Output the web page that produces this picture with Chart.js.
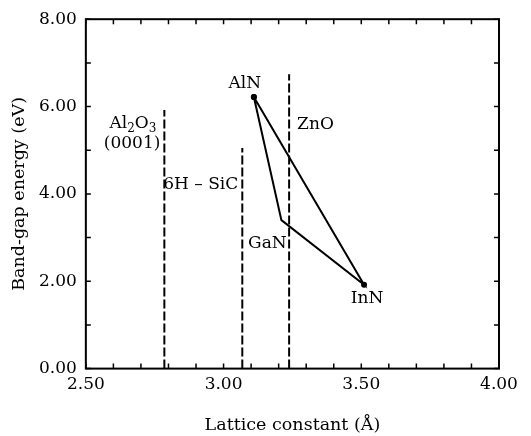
<!DOCTYPE html>
<html>
<head>
<meta charset="utf-8">
<script src="https://cdn.jsdelivr.net/npm/chart.js@4"></script>
<style>
  html, body { margin: 0; padding: 0; background: #fff; }
  #wrap { width: 531px; height: 436px; }
</style>
</head>
<body>
<div id="wrap"><canvas id="gapChart" width="531" height="436"></canvas></div>
<script>
// nitride alloys: lattice constant (A) vs band gap (eV)
const compounds = ['AlN', 'GaN', 'InN'];
const latticeA = [3.11, 3.21, 3.51];
const bandGap = [6.22, 3.40, 1.92];

// substrate lattice constants, drawn as dashed verticals
const substrates = ['Al2O3', '6H – SiC', 'ZnO'];
const substrateA = [2.785, 3.068, 3.238];
const substrateTop = [5.92, 5.05, 6.74];

const xTicks = [2.5, 3.0, 3.5, 4.0];
const yTicks = [0, 2, 4, 6, 8];

const FONT = "'DejaVu Serif', 'Liberation Serif', serif";

// triangle AlN -> GaN -> InN -> AlN
const triPoints = compounds.map((c, i) => ({ x: latticeA[i], y: bandGap[i] }));
triPoints.push({ x: latticeA[0], y: bandGap[0] });

const datasets = [{
    data: triPoints,
    showLine: true,
    borderColor: '#000',
    backgroundColor: '#000',
    borderWidth: 2,
    pointRadius: [3, 0, 3, 3],
    pointBorderWidth: 0
}];
substrates.forEach((s, i) => {
    datasets.push({
        data: [{ x: substrateA[i], y: 0 }, { x: substrateA[i], y: substrateTop[i] }],
        showLine: true,
        borderColor: '#000',
        borderWidth: 2,
        borderDash: [9, 3],
        pointRadius: 0
    });
});

function isLabelled(v, list) {
    return list.some(t => Math.abs(t - v) < 1e-6);
}

// frame + inward tick marks
const framePlugin = {
    id: 'frame',
    afterDatasetsDraw(chart) {
        const { ctx, chartArea: a, scales } = chart;
        ctx.save();
        ctx.strokeStyle = '#000';
        ctx.lineWidth = 2;
        ctx.strokeRect(a.left, a.top, a.right - a.left, a.bottom - a.top);
        ctx.lineWidth = 1.5;
        ctx.beginPath();
        scales.x.ticks.forEach(t => {
            const px = scales.x.getPixelForValue(t.value);
            ctx.moveTo(px, a.bottom); ctx.lineTo(px, a.bottom - 5);
            ctx.moveTo(px, a.top); ctx.lineTo(px, a.top + 5);
        });
        scales.y.ticks.forEach(t => {
            const py = scales.y.getPixelForValue(t.value);
            ctx.moveTo(a.left, py); ctx.lineTo(a.left + 5, py);
            ctx.moveTo(a.right, py); ctx.lineTo(a.right - 5, py);
        });
        ctx.stroke();
        ctx.restore();
    }
};

function subText(ctx, parts, x, y, align) {
    // parts: [text, isSub]
    const big = '17px ' + FONT, small = '12px ' + FONT;
    let w = 0;
    parts.forEach(p => { ctx.font = p[1] ? small : big; w += ctx.measureText(p[0]).width; });
    let cx = align === 'right' ? x - w : (align === 'center' ? x - w / 2 : x);
    ctx.textAlign = 'left';
    parts.forEach(p => {
        ctx.font = p[1] ? small : big;
        ctx.fillText(p[0], cx, p[1] ? y + 5 : y);
        cx += ctx.measureText(p[0]).width;
    });
}

const labelPlugin = {
    id: 'labels',
    afterDatasetsDraw(chart) {
        const { ctx, scales: { x, y } } = chart;
        ctx.save();
        ctx.fillStyle = '#000';
        ctx.textBaseline = 'middle';
        ctx.font = '17px ' + FONT;
        // compound labels
        const offs = [[-9, -13, 'center'], [-14, 23, 'center'], [3, 14, 'center']];
        compounds.forEach((c, i) => {
            ctx.textAlign = offs[i][2];
            ctx.fillText(c, x.getPixelForValue(latticeA[i]) + offs[i][0], y.getPixelForValue(bandGap[i]) + offs[i][1]);
        });
        // substrate labels
        const sx = substrateA.map(v => x.getPixelForValue(v));
        const sy = substrateTop.map(v => y.getPixelForValue(v));
        subText(ctx, [['Al', false], ['2', true], ['O', false], ['3', true]], sx[0] - 8, sy[0] + 14, 'right');
        ctx.font = '17px ' + FONT;
        ctx.textAlign = 'right';
        ctx.fillText('(0001)', sx[0] - 4, sy[0] + 34);
        ctx.fillText(substrates[1], sx[1] - 4, sy[1] + 37);
        ctx.textAlign = 'left';
        ctx.fillText(substrates[2], sx[2] + 8, sy[2] + 50);
        ctx.restore();
    }
};

new Chart(document.getElementById('gapChart'), {
    type: 'scatter',
    data: { datasets },
    options: {
        responsive: false,
        animation: false,
        layout: { padding: { left: 9, right: 32, top: 12, bottom: 0 } },
        plugins: { legend: { display: false }, tooltip: { enabled: false } },
        scales: {
            x: {
                min: 2.5, max: 4.0,
                grid: { display: false, drawTicks: false },
                border: { display: false },
                ticks: {
                    stepSize: 0.1,
                    autoSkip: false,
                    maxRotation: 0,
                    padding: 6,
                    color: '#000',
                    font: { family: FONT, size: 17 },
                    callback: v => isLabelled(v, xTicks) ? v.toFixed(2) : ''
                },
                title: {
                    display: true,
                    text: 'Lattice constant (Å)',
                    color: '#000',
                    font: { family: FONT, size: 17.5 },
                    padding: { top: 14, bottom: 0 }
                }
            },
            y: {
                min: 0, max: 8,
                grid: { display: false, drawTicks: false },
                border: { display: false },
                ticks: {
                    stepSize: 1,
                    autoSkip: false,
                    padding: 9,
                    color: '#000',
                    font: { family: FONT, size: 17 },
                    callback: v => isLabelled(v, yTicks) ? v.toFixed(2) : ''
                },
                title: {
                    display: true,
                    text: 'Band-gap energy (eV)',
                    color: '#000',
                    font: { family: FONT, size: 17.5 },
                    padding: { top: 0, bottom: 0 }
                }
            }
        }
    },
    plugins: [framePlugin, labelPlugin]
});
</script>
</body>
</html>
